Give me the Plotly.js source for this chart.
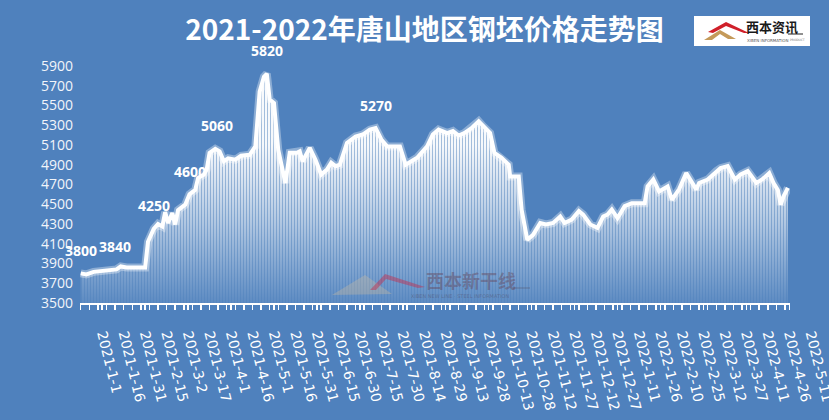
<!DOCTYPE html>
<html>
<head>
<meta charset="utf-8">
<script src="https://cdn.plot.ly/plotly-3.0.1.min.js"></script>
<style>html,body{margin:0;padding:0;background:#4f81bd;}#chart{width:829px;height:420px;}</style>
</head>
<body>
<div id="chart"></div>
<script>
// ---- data ----
const dates = [
"2021-01-01","2021-01-05","2021-01-10","2021-01-17","2021-01-22","2021-01-26","2021-01-29","2021-02-02","2021-02-15","2021-02-17",
"2021-02-21","2021-02-24","2021-02-27","2021-03-01","2021-03-03","2021-03-06","2021-03-08","2021-03-10","2021-03-15","2021-03-18",
"2021-03-22","2021-03-24","2021-03-28","2021-03-30","2021-04-01","2021-04-05","2021-04-08","2021-04-11","2021-04-14","2021-04-19",
"2021-04-23","2021-04-29","2021-05-03","2021-05-06","2021-05-09","2021-05-11","2021-05-13","2021-05-16","2021-05-19","2021-05-21",
"2021-05-24","2021-05-27","2021-06-01","2021-06-03","2021-06-05","2021-06-10","2021-06-14","2021-06-18","2021-06-22","2021-06-25",
"2021-06-28","2021-07-01","2021-07-06","2021-07-12","2021-07-17","2021-07-22","2021-07-26","2021-07-30","2021-08-03","2021-08-12",
"2021-08-16","2021-08-20","2021-08-24","2021-08-31","2021-09-04","2021-09-08","2021-09-14","2021-09-18","2021-09-22","2021-09-26",
"2021-10-01","2021-10-06","2021-10-09","2021-10-14","2021-10-17","2021-10-22","2021-10-27","2021-10-28","2021-11-03","2021-11-05",
"2021-11-09","2021-11-13","2021-11-18","2021-11-22","2021-11-27","2021-12-02","2021-12-05","2021-12-10","2021-12-15","2021-12-18",
"2021-12-23","2021-12-28","2022-01-01","2022-01-04","2022-01-07","2022-01-11","2022-01-16","2022-01-21","2022-01-30","2022-02-01",
"2022-02-05","2022-02-09","2022-02-15","2022-02-18","2022-02-23","2022-02-28","2022-03-07","2022-03-09","2022-03-15","2022-03-21",
"2022-03-24","2022-03-29","2022-04-03","2022-04-07","2022-04-12","2022-04-18","2022-04-22","2022-04-27","2022-04-30","2022-05-03",
"2022-05-05","2022-05-07","2022-05-10"
];
const prices = [
3800,3790,3815,3825,3830,3840,3870,3860,3860,4120,
4250,4300,4275,4420,4310,4410,4295,4440,4495,4600,
4645,4765,4800,4850,5020,5060,5035,4935,4965,4950,
4990,5000,5085,5640,5790,5820,5560,5525,5050,4900,
4715,5020,5020,5035,4935,5070,4950,4800,4850,4920,
4885,4900,5120,5185,5205,5255,5270,5155,5085,5085,
4900,4935,4970,5085,5205,5255,5220,5240,5195,5220,
5270,5340,5290,5220,5020,4970,4900,4780,4780,4445,
4140,4190,4310,4295,4310,4375,4310,4345,4430,4395,
4295,4260,4375,4395,4445,4360,4480,4510,4510,4680,
4750,4630,4680,4545,4650,4815,4650,4715,4750,4835,
4865,4885,4750,4800,4835,4715,4750,4815,4715,4645,
4495,4580,4665
];
const labelDates  = ["2021-01-01","2021-01-25","2021-02-21","2021-03-18","2021-04-06","2021-05-11","2021-07-26"];
const labelValues = [3800,3840,4250,4600,5060,5820,5270];
const tickLabels = [
"2021-1-1","2021-1-16","2021-1-31","2021-2-15","2021-3-2","2021-3-17","2021-4-1","2021-4-16","2021-5-1","2021-5-16",
"2021-5-31","2021-6-15","2021-6-30","2021-7-15","2021-7-30","2021-8-14","2021-8-29","2021-9-13","2021-9-28","2021-10-13",
"2021-10-28","2021-11-12","2021-11-27","2021-12-12","2021-12-27","2022-1-11","2022-1-26","2022-2-10","2022-2-25","2022-3-12",
"2022-3-27","2022-4-11","2022-4-26","2022-5-11"
];
const yTicks = [3500,3700,3900,4100,4300,4500,4700,4900,5100,5300,5500,5700,5900];
const titleText = "2021-2022年唐山地区钢坯价格走势图";

// ---- layout helpers ----
const W=829,H=420,L=80,R=39,T=56,B=117;
const PW=W-L-R, PH=H-T-B;
const BG="#4f81bd";
function px(x){return (x-L)/PW;}
function py(y){return (H-B-y)/PH;}
function path(pts){return "M"+pts.map(p=>px(p[0]).toFixed(4)+","+py(p[1]).toFixed(4)).join(" L")+" Z";}
function pad(s){const a=s.split("-");return a[0]+"-"+a[1].padStart(2,"0")+"-"+a[2].padStart(2,"0");}
const tickVals = tickLabels.map(pad);

const traces = [
  {type:"scatter",mode:"lines",x:dates,y:prices,fill:"tozeroy",
   line:{width:0,color:"rgba(255,255,255,0)"},
   fillgradient:{type:"vertical",start:3500,stop:5100,
     colorscale:[[0,"rgba(255,255,255,0.08)"],[0.5,"rgba(255,255,255,0.55)"],[1,"rgba(255,255,255,0.95)"]]},
   hoverinfo:"skip",showlegend:false},
  {type:"scatter",mode:"lines",x:dates,y:prices,fill:"tozeroy",
   line:{width:0,color:"rgba(255,255,255,0)"},
   fillpattern:{shape:"|",size:3,solidity:0.3,fgcolor:BG,fgopacity:0.55,bgcolor:"rgba(0,0,0,0)"},
   hoverinfo:"skip",showlegend:false},
  {type:"scatter",mode:"lines",x:dates,y:prices,
   line:{width:8,color:"rgba(255,255,255,0.35)"},hoverinfo:"skip",showlegend:false},
  {type:"scatter",mode:"lines",x:dates,y:prices,
   line:{width:4,color:"#ffffff"},showlegend:false}
];

const annotations = labelDates.map((d,i)=>({
  xref:"x",yref:"y",x:d,y:labelValues[i],text:String(labelValues[i]),showarrow:false,
  xanchor:"center",yanchor:"middle",
  yshift:23,font:{family:"Open Sans",size:14,color:"#ffffff",weight:700}
}));
function paperText(x,y,text,font,extra){
  return Object.assign({xref:"paper",yref:"paper",x:px(x),y:py(y),text:text,showarrow:false,
    xanchor:"center",yanchor:"middle",font:font},extra||{});
}
annotations.push(paperText(471,280,"西本新干线",{family:"Noto Sans CJK SC",size:18,color:"rgba(100,70,90,0.45)",weight:700}));
annotations.push(paperText(460,296,"XIBEN NEW LINE · STEEL INFORMATION",{family:"DejaVu Sans",size:5,color:"rgba(80,70,90,0.45)"}));
annotations.push(paperText(772,27,"西本资讯",{family:"Noto Sans CJK SC",size:13,color:"#1a1a1a",weight:700}));
annotations.push(paperText(768,40,"XIBEN INFORMATION",{family:"DejaVu Sans",size:4,color:"#555555"}));
annotations.push(paperText(797,40,"PRODUCT",{family:"DejaVu Sans",size:3,color:"#777777"}));

const shapes = [
  {type:"rect",xref:"paper",yref:"paper",x0:px(694),x1:px(810),y0:py(46),y1:py(16),
   fillcolor:"#ffffff",line:{width:0},layer:"above"},
  {type:"path",xref:"paper",yref:"paper",path:path([[704,40],[720,30],[736,39],[728,39],[720,34],[712,40]]),
   fillcolor:"#c49a5a",line:{width:0},layer:"above"},
  {type:"path",xref:"paper",yref:"paper",path:path([[708,32],[726,22],[749,33],[744,33],[726,26],[713,33]]),
   fillcolor:"#d0202a",line:{width:0},layer:"above"},
  {type:"line",xref:"paper",yref:"paper",x0:px(788),x1:px(803),y0:py(34),y1:py(34),
   line:{color:"#222222",width:1},layer:"above"},
  // watermark
  {type:"path",xref:"paper",yref:"paper",path:path([[332,295],[365,275],[392,294]]),
   fillcolor:"rgba(205,190,160,0.35)",line:{width:0},layer:"above"},
  {type:"path",xref:"paper",yref:"paper",path:path([[370,290],[385,274],[425,287],[418,288],[386,279],[376,290]]),
   fillcolor:"rgba(200,40,70,0.45)",line:{width:0},layer:"above"},
  {type:"line",xref:"paper",yref:"paper",x0:px(513),x1:px(530),y0:py(288),y1:py(288),
   line:{color:"rgba(80,70,90,0.45)",width:1},layer:"above"}
];

const layout = {
  width:W,height:H,
  margin:{l:L,r:R,t:T,b:B},
  paper_bgcolor:BG,plot_bgcolor:BG,
  title:{text:titleText,x:424.5/W,xref:"container",xanchor:"center",y:1-30/H,yref:"container",yanchor:"middle",
    font:{family:"Noto Sans CJK SC",size:28,color:"#ffffff",weight:700}},
  xaxis:{type:"date",range:["2020-12-31 12:00","2022-05-11 12:00"],
    tickmode:"array",tickvals:tickVals,ticktext:tickLabels,tickangle:76,
    ticks:"outside",ticklen:5,tickwidth:1.5,tickcolor:"#ffffff",
    minor:{ticks:"outside",ticklen:5,tickwidth:1.5,tickcolor:"#ffffff",dtick:6*86400000,tick0:"2021-01-01",showgrid:false},
    showline:true,linecolor:"#ffffff",linewidth:2,showgrid:false,zeroline:false,
    ticklabelshift:23,ticklabelstandoff:11,ticklabeloverflow:"allow",
    tickfont:{family:"DejaVu Sans",size:14,color:"#ffffff"},fixedrange:true},
  yaxis:{range:[3500,6000],tickmode:"array",tickvals:yTicks,
    showgrid:false,zeroline:false,showline:false,ticks:"",ticklabelstandoff:6,
    tickfont:{family:"Open Sans",size:14,color:"#f2f5fa"},fixedrange:true},
  annotations:annotations,
  shapes:shapes,
  showlegend:false
};

Plotly.newPlot("chart",traces,layout,{staticPlot:true,displayModeBar:false});
</script>
</body>
</html>
